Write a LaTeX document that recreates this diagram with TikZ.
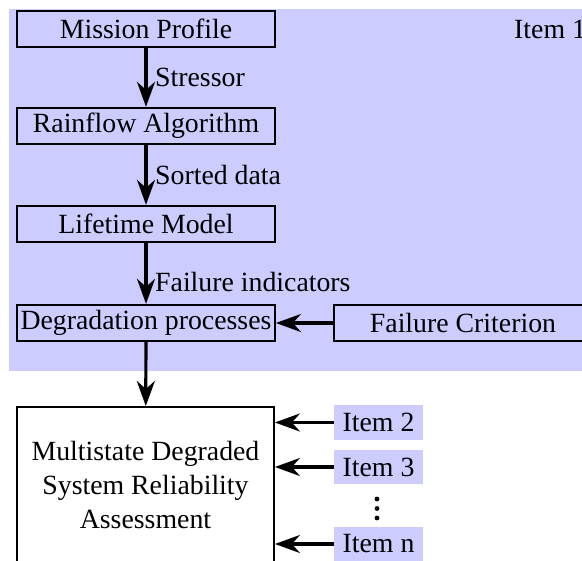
\documentclass[tikz,border=0pt]{standalone}
\usepackage{fontspec}
\setmainfont{Liberation Serif}
\usetikzlibrary{arrows.meta}
\definecolor{lav}{RGB}{204,204,255}
\begin{document}
\begin{tikzpicture}[x=1pt,y=-1pt,
  every node/.style={font=\rmfamily\fontsize{27.8}{34}\selectfont},
  stepbox/.style={draw=black, line width=1.8pt, fill=lav, minimum width=258pt, minimum height=36.5pt, inner sep=0pt},
  itembox/.style={fill=lav, minimum width=89pt, minimum height=34.5pt, inner sep=0pt},
  lbl/.style={anchor=base west, inner sep=0pt},
  arr/.style={line width=3.2pt, -{Stealth[length=25pt,width=18pt,inset=8pt]}}]
\useasboundingbox (0,0) rectangle (582,561);
\clip (0,0) rectangle (582,561);
\fill[lav] (9,9) rectangle (620,371);
\node[lbl] (item1) at (514,39) {Item 1};
\node[stepbox] (mp) at (146,29) {Mission Profile};
\node[stepbox] (ra) at (146,126) {Rainflow Algorithm};
\node[stepbox] (lm) at (146,224) {Lifetime Model};
\node[stepbox] (dp) at (146,323) {Degradation processes};
\node[stepbox] (fc) at (463,323) {Failure Criterion};
\node[draw=black, line width=1.8pt, fill=white, minimum width=257pt, minimum height=200pt, inner sep=0pt, anchor=north] (big) at (145.5,406) {};
\node[align=center, inner sep=0pt] (bigtxt) at (145.5,485) {Multistate Degraded\\System Reliability\\Assessment};
\node[itembox] (i2) at (378.5,422.5) {Item 2};
\node[itembox] (i3) at (378.5,467) {Item 3};
\node[itembox] (in) at (378.5,544) {Item n};
\coordinate (dots) at (377,508.5);
\fill ([yshift=-9.5pt]dots) circle (2.4pt) (dots) circle (2.4pt) ([yshift=9.5pt]dots) circle (2.4pt);
\draw[arr] (mp) -- (ra);
\draw[arr] (ra) -- (lm);
\draw[arr] (lm) -- (dp);
\draw[arr] (dp) -- (big);
\draw[arr] (fc.west) -- (dp.east);
\draw[arr] (i2.west) -- (i2.west -| big.east);
\draw[arr] (i3.west) -- (i3.west -| big.east);
\draw[arr] (in.west) -- (in.west -| big.east);
\node[lbl] (l1) at (155,87) {Stressor};
\node[lbl] (l2) at (155,185) {Sorted data};
\node[lbl] (l3) at (155,292) {Failure indicators};
\end{tikzpicture}
\end{document}
